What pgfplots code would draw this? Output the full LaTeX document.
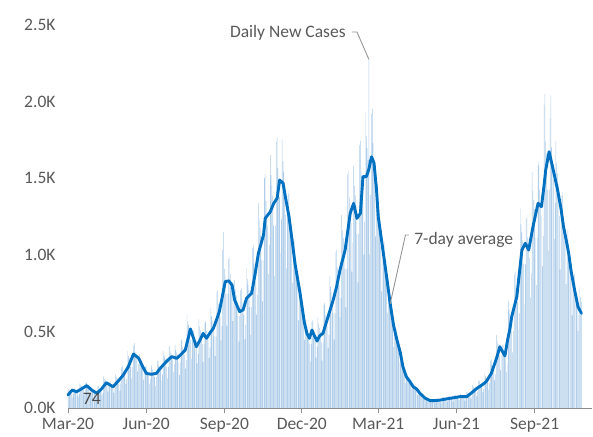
\documentclass[border=0pt]{standalone}
\usepackage{pgfplots}
\pgfplotsset{compat=1.18}
\usepackage{fontspec}
\setmainfont{Carlito}
\definecolor{barblue}{RGB}{176,206,234}
\definecolor{lineblue}{RGB}{0,112,192}
\definecolor{textgray}{RGB}{89,89,89}
\definecolor{axisgray}{RGB}{140,140,140}
\definecolor{leadgray}{RGB}{150,150,150}
\begin{document}
\begin{tikzpicture}[x=1pt,y=1pt]
\begin{axis}[
  at={(0pt,0pt)}, anchor=south west,
  scale only axis, width=523.6pt, height=383pt,
  xmin=0, xmax=616, ymin=0, ymax=2500,
  clip=false,
  axis lines*=left,
  y axis line style={draw=none},
  ytick style={draw=none},
  x axis line style={draw=axisgray, line width=0.9pt},
  xtick style={draw=axisgray, line width=0.9pt},
  tick align=outside, major tick length=5pt,
  xtick={0,92,184,275,365,457,549},
  xticklabels={Mar-20,Jun-20,Sep-20,Dec-20,Mar-21,Jun-21,Sep-21},
  ytick={0,500,1000,1500,2000,2500},
  yticklabels={0.0K,0.5K,1.0K,1.5K,2.0K,2.5K},
  /pgf/number format/assume math mode=true,
  every tick label/.append style={font=\fontsize{17.5}{21}\selectfont, text=textgray},
  yticklabel style={anchor=east, xshift=-4pt},
  xticklabel style={yshift=-2pt},
]
\addplot[ybar, bar width=0.5, fill=barblue, draw=none, bar shift=0pt]
 table[x expr=\coordindex, y index=0, header=false, row sep=\\] {
130\\120\\114\\109\\94\\68\\94\\
127\\129\\114\\106\\101\\74\\90\\
161\\148\\142\\135\\116\\84\\116\\
163\\166\\147\\136\\129\\95\\116\\
133\\122\\117\\111\\95\\69\\95\\
140\\143\\126\\117\\111\\82\\99\\
206\\190\\182\\173\\149\\107\\149\\
170\\173\\153\\142\\135\\99\\121\\
219\\201\\193\\184\\158\\114\\158\\
269\\273\\242\\224\\213\\157\\190\\
371\\342\\327\\312\\267\\193\\267\\
407\\424\\366\\339\\322\\237\\288\\
351\\323\\309\\295\\253\\183\\253\\
269\\273\\242\\224\\213\\157\\190\\
279\\256\\245\\234\\201\\145\\201\\
306\\311\\275\\255\\242\\179\\217\\
373\\343\\328\\313\\268\\194\\268\\
402\\409\\362\\335\\318\\235\\285\\
411\\378\\362\\345\\296\\214\\296\\
440\\448\\396\\367\\349\\257\\312\\
616\\567\\542\\518\\444\\320\\444\\
500\\509\\450\\417\\396\\292\\354\\
579\\532\\509\\486\\417\\301\\417\\
557\\566\\501\\464\\441\\325\\394\\
650\\598\\572\\546\\468\\338\\468\\
755\\767\\679\\629\\598\\440\\535\\
1031\\1150\\908\\866\\743\\536\\743\\
972\\988\\875\\810\\770\\567\\689\\
834\\767\\734\\700\\600\\434\\600\\
768\\781\\691\\640\\608\\448\\544\\
915\\842\\805\\769\\659\\476\\659\\
1044\\1061\\940\\870\\827\\609\\740\\
1338\\1231\\1177\\1124\\963\\696\\963\\
1502\\1527\\1352\\1252\\1189\\876\\1064\\
1653\\1520\\1454\\1388\\1190\\859\\1190\\
1738\\1767\\1564\\1448\\1376\\1014\\1231\\
1753\\1612\\1542\\1472\\1262\\911\\1262\\
1398\\1421\\1258\\1165\\1107\\816\\990\\
1100\\1012\\968\\924\\792\\572\\792\\
763\\776\\687\\636\\604\\445\\541\\
583\\536\\513\\489\\419\\303\\419\\
564\\573\\508\\470\\447\\329\\400\\
594\\546\\523\\499\\428\\309\\428\\
673\\684\\606\\561\\533\\393\\477\\
859\\790\\756\\721\\618\\447\\618\\
1015\\1032\\914\\846\\804\\592\\719\\
1261\\1160\\1110\\1059\\908\\656\\908\\
1525\\1551\\1373\\1271\\1207\\890\\1080\\
1578\\1451\\1388\\1325\\1136\\820\\1136\\
1716\\1745\\1544\\1430\\1359\\1001\\1216\\
1929\\1774\\1697\\1620\\2270\\1003\\1389\\
1920\\1952\\1728\\1600\\1520\\1120\\1360\\
1463\\1346\\1287\\1229\\1053\\761\\1053\\
1068\\1086\\961\\890\\846\\623\\757\\
764\\703\\672\\642\\550\\397\\550\\
508\\516\\457\\423\\402\\296\\360\\
316\\291\\278\\266\\228\\164\\228\\
210\\214\\189\\175\\166\\123\\149\\
161\\148\\142\\135\\116\\84\\116\\
103\\105\\93\\86\\82\\60\\73\\
70\\64\\62\\59\\50\\36\\50\\
58\\59\\52\\48\\46\\34\\41\\
64\\59\\56\\54\\46\\33\\46\\
70\\71\\63\\58\\55\\41\\49\\
81\\75\\72\\68\\59\\42\\59\\
85\\87\\77\\71\\67\\50\\60\\
93\\85\\81\\78\\67\\48\\67\\
104\\106\\94\\87\\83\\61\\74\\
149\\137\\131\\125\\107\\77\\107\\
175\\178\\158\\146\\139\\102\\124\\
226\\208\\199\\190\\163\\118\\163\\
310\\315\\279\\258\\245\\181\\219\\
475\\437\\418\\399\\342\\247\\342\\
408\\415\\367\\340\\323\\238\\289\\
698\\642\\614\\586\\502\\363\\502\\
872\\887\\785\\727\\691\\509\\618\\
1303\\1198\\1146\\1094\\938\\677\\938\\
1237\\1258\\1113\\1031\\979\\722\\876\\
1543\\1419\\1357\\1296\\1111\\802\\1111\\
1584\\1610\\1426\\1320\\1254\\924\\1122\\
1979\\2050\\1741\\1662\\1425\\1029\\1425\\
1890\\2040\\1701\\1575\\1496\\1103\\1339\\
1740\\1601\\1531\\1462\\1253\\905\\1253\\
1386\\1409\\1247\\1155\\1097\\809\\982\\
1163\\1070\\1023\\977\\837\\605\\837\\
859\\874\\773\\716\\680\\501\\609\\
788\\725\\693\\
};
\addplot[lineblue, line width=2.9pt, line join=round, line cap=round] coordinates {
(0,85) (5,117) (10,106) (16,125) (22,146) (28,117) (34,96) (40,128) (45,165)
(53,139) (59,175) (65,215) (71,270) (77,352) (83,326) (88,270) (92,226) (98,220)
(104,226) (108,255) (112,281) (117,310) (122,335) (128,324) (133,350) (138,379)
(144,516) (148,450) (151,400) (155,440) (159,487) (163,455) (167,490) (171,520)
(175,580) (178,629) (182,740) (185,825) (189,830) (193,803) (196,705) (202,629)
(206,640) (210,716) (216,749) (220,870) (224,1010) (230,1129) (232,1238) (238,1281)
(242,1336) (246,1369) (249,1488) (253,1467) (256,1370) (260,1249) (264,1080)
(267,945) (273,749) (278,560) (281,488) (284,455) (287,509) (290,470) (293,437)
(296,470) (300,488) (306,597) (312,705) (316,792) (320,901) (326,1031) (329,1150)
(332,1271) (336,1336) (340,1238) (344,1271) (347,1510) (351,1510) (354,1560)
(357,1640) (360,1600) (363,1420) (365,1249) (371,1010) (375,850) (379,683)
(383,540) (387,444) (391,360) (394,270) (398,204) (402,175) (406,139) (410,125)
(414,96) (420,65) (426,48) (432,48) (438,52) (444,58) (449,63) (455,68) (461,74)
(469,74) (475,100) (481,128) (487,150) (492,172) (498,226) (502,290) (505,340)
(508,400) (511,370) (514,340) (517,440) (520,520) (522,596) (528,727) (531,880)
(534,1031) (538,1075) (542,1031) (547,1183) (553,1336) (557,1314) (560,1450)
(562,1553) (566,1673) (570,1575) (573,1500) (576,1423) (580,1300) (583,1183)
(586,1100) (589,1010) (592,890) (596,770) (600,661) (602,640) (604,618)
};
\node[anchor=east, font=\fontsize{17.5}{21}\selectfont, text=textgray, inner sep=1pt]
  at (axis cs:328,2448) {Daily New Cases};
\draw[leadgray, line width=0.9pt] (axis cs:334,2454) -- (axis cs:340,2454) -- (axis cs:354,2275);
\node[anchor=west, font=\fontsize{17.5}{21}\selectfont, text=textgray, inner sep=1pt]
  at (axis cs:406,1096) {7-day average};
\draw[leadgray, line width=0.9pt] (axis cs:401,1129) -- (axis cs:397,1129) -- (axis cs:379,680);
\node[font=\fontsize{17.5}{21}\selectfont, text=textgray!80!black, inner sep=0pt]
  at (axis cs:28,58) {74};
\end{axis}
\path[use as bounding box] (-68pt,-26pt) rectangle (525pt,408pt);
\end{tikzpicture}
\end{document}
